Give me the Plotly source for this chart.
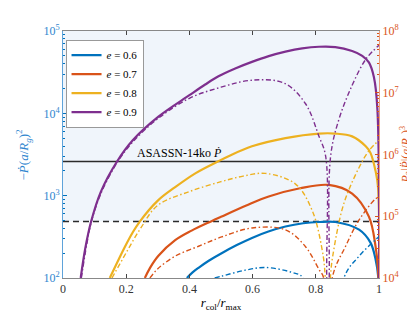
import math
import plotly.graph_objects as go

# ---- data ----
# solid curves: -Pdot (a/Rg)^2  (left axis)
x_s06 = [0.392, 0.41, 0.43, 0.46, 0.502, 0.55, 0.598, 0.65, 0.704, 0.76, 0.81, 0.862, 0.937, 0.973, 0.989, 0.998, 0.9995]
y_s06 = [100, 117, 134, 161, 200, 251, 307, 367, 422, 462, 479, 479, 386, 269, 170, 100, 10]

x_s07 = [0.259, 0.275, 0.302, 0.355, 0.407, 0.47, 0.5, 0.58, 0.651, 0.75, 0.841, 0.915, 0.968, 0.989, 0.998, 0.9995]
y_s07 = [100, 132, 186, 288, 376, 490, 553, 759, 977, 1230, 1350, 1060, 556, 244, 107, 10]

x_s08 = [0.148, 0.196, 0.22, 0.243, 0.3, 0.355, 0.42, 0.49, 0.524, 0.598, 0.704, 0.81, 0.862, 0.915, 0.958, 0.973, 0.989, 0.997, 0.9995]
y_s08 = [100, 240, 355, 485, 871, 1270, 1880, 2600, 3020, 3980, 5010, 5680, 5680, 5250, 3980, 3310, 2000, 1260, 10]

x_s09 = [0.056, 0.07, 0.089, 0.12, 0.171, 0.22, 0.302, 0.4, 0.45, 0.492, 0.545, 0.598, 0.651, 0.704, 0.757, 0.81, 0.862, 0.915, 0.947, 0.968, 0.984, 0.995, 0.9995]
y_s09 = [100, 224, 485, 1120, 2600, 4680, 9120, 16600, 22400, 28200, 35100, 42200, 49500, 56100, 61500, 64400, 63800, 57100, 49900, 41500, 27400, 11100, 10]

# dash-dot curves: P0 |Pddot| (a/Rg)^3  (right axis)
x_d06 = [0.48, 0.502, 0.58, 0.64, 0.725, 0.76, 0.838, 0.889, 0.937, 0.989, 1.0]
y_d06 = [1.0e4, 1.07e4, 1.35e4, 1.48e4, 1.23e4, 1.0e4, 10, 1.0e4, 2.26e4, 4.17e4, 4.68e4]

x_d07 = [0.275, 0.3, 0.355, 0.429, 0.502, 0.598, 0.704, 0.767, 0.81, 0.825, 0.838, 0.852, 0.894, 0.937, 0.989, 1.0]
y_d07 = [1.0e4, 1.41e4, 2.26e4, 3.27e4, 4.62e4, 6.46e4, 6.03e4, 3.24e4, 1.38e4, 1.0e4, 10, 1.0e4, 3.24e4, 8.71e4, 1.91e5, 2.04e5]

x_d08 = [0.155, 0.2, 0.245, 0.3, 0.4, 0.5, 0.57, 0.64, 0.735, 0.788, 0.82, 0.83, 0.838, 0.846, 0.857, 0.889, 0.937, 0.968, 1.0]
y_d08 = [1.0e4, 2.57e4, 6.31e4, 1.51e5, 2.51e5, 3.63e5, 4.47e5, 4.94e5, 3.35e5, 1.26e5, 2.88e4, 1.0e4, 10, 1.0e4, 2.88e4, 1.62e5, 6.17e5, 1.15e6, 1.70e6]

x_d09 = [0.058, 0.075, 0.09, 0.12, 0.17, 0.22, 0.3, 0.4, 0.5, 0.6, 0.7, 0.767, 0.81, 0.831, 0.8345, 0.838, 0.8425, 0.847, 0.873, 0.915, 0.958, 1.0]
y_d09 = [1.0e4, 3.47e4, 8.32e4, 2.34e5, 7.24e5, 1.58e6, 3.8e6, 8.13e6, 1.23e7, 1.6e7, 1.43e7, 6.7e6, 1.97e6, 9.46e5, 1.0e4, 10, 1.0e4, 9.46e5, 3.68e6, 1.32e7, 3.47e7, 5.89e7]

ecc_labels = ["0.6", "0.7", "0.8", "0.9"]
colors = ["#0072BD", "#D95319", "#EDB120", "#7E2F8E"]

pdot_obs = 2600      # ASASSN-14ko Pdot
pdot_low = 485       # dashed threshold

x_ticks = [0, 0.2, 0.4, 0.6, 0.8, 1]
x_ticktext = ["0", "0.2", "0.4", "0.6", "0.8", "1"]
yl_ticks = [1e2, 1e3, 1e4, 1e5]
yl_text = ["10<sup>2</sup>", "10<sup>3</sup>", "10<sup>4</sup>", "10<sup>5</sup>"]
yr_ticks = [1e4, 1e5, 1e6, 1e7, 1e8]
yr_text = ["10<sup>4</sup>", "10<sup>5</sup>", "10<sup>6</sup>", "10<sup>7</sup>", "10<sup>8</sup>"]

FONT = "Liberation Serif, DejaVu Serif, serif"
BLUE_TXT = "#2f86cf"
ORANGE_TXT = "#D95319"

solids = [(x_s06, y_s06), (x_s07, y_s07), (x_s08, y_s08), (x_s09, y_s09)]
dashes = [(x_d06, y_d06), (x_d07, y_d07), (x_d08, y_d08), (x_d09, y_d09)]

fig = go.Figure()

# shaded region
fig.add_shape(type="rect", xref="x", yref="y", x0=0, x1=1, y0=pdot_low, y1=1e5,
              fillcolor="#F0F5FB", line=dict(width=0), layer="below")

for (xs, ys), c in zip(dashes, colors):
    fig.add_trace(go.Scatter(x=xs, y=ys, mode="lines", yaxis="y2", showlegend=False,
                             line=dict(color=c, width=1.4, dash="5px,2.5px,1.5px,2.5px",
                                       shape="spline", smoothing=1.0)))

# horizontal reference lines
fig.add_trace(go.Scatter(x=[0, 1], y=[pdot_obs, pdot_obs], mode="lines", showlegend=False,
                         line=dict(color="#2b2b2b", width=1.6)))
fig.add_trace(go.Scatter(x=[0, 1], y=[pdot_low, pdot_low], mode="lines", showlegend=False,
                         line=dict(color="#2b2b2b", width=1.6, dash="6px,4px")))

for (xs, ys), c, lab in zip(solids, colors, ecc_labels):
    fig.add_trace(go.Scatter(x=xs, y=ys, mode="lines", name="<i>e</i> = " + lab,
                             line=dict(color=c, width=2.2, shape="spline", smoothing=1.0)))

fig.add_annotation(x=0.228, y=math.log10(pdot_obs), xref="x", yref="y",
                   text="ASASSN-14ko <i>Ṗ</i>",
                   showarrow=False, xanchor="left", yanchor="bottom", yshift=0,
                   font=dict(family=FONT, size=12, color="black"))

# axis titles
fig.add_annotation(x=0, y=0.5, xref="paper", yref="paper", xshift=-40,
                   text="−<i>Ṗ</i>(<i>a</i>/<i>R<sub>g</sub></i>)<sup>2</sup>",
                   textangle=-90, showarrow=False, xanchor="center", yanchor="middle",
                   font=dict(family=FONT, size=13, color=BLUE_TXT))
fig.add_annotation(x=1, y=0.5, xref="paper", yref="paper", xshift=27,
                   text="<i>P</i><sub>0</sub>|<i>P̈</i>|(<i>a</i>/<i>R<sub>g</sub></i>)<sup>3</sup>",
                   textangle=-90, showarrow=False, xanchor="center", yanchor="middle",
                   font=dict(family=FONT, size=12, color=ORANGE_TXT))

fig.update_layout(
    width=415, height=312,
    margin=dict(l=55, r=44, t=23, b=38),
    paper_bgcolor="white", plot_bgcolor="white",
    font=dict(family=FONT, size=12, color="black"),
    showlegend=True,
    legend=dict(x=0.008, y=0.965, xanchor="left", yanchor="top",
                bgcolor="white", bordercolor="#999999", borderwidth=1,
                font=dict(family=FONT, size=11), tracegroupgap=0,
                itemwidth=30),
    xaxis=dict(range=[0, 1], tickvals=x_ticks, ticktext=x_ticktext, ticks="inside",
               ticklen=4, tickcolor="#444", showline=True, linecolor="#888", mirror="ticks",
               showgrid=False, zeroline=False,
               tickfont=dict(family=FONT, size=12, color="#333"),
               title=dict(text="<i>r</i><sub>col</sub>/<i>r</i><sub>max</sub>",
                          font=dict(family=FONT, size=13), standoff=2)),
    yaxis=dict(type="log", range=[2, 5], tickvals=yl_ticks, ticktext=yl_text,
               ticks="inside", ticklen=4, tickcolor="#0072BD", showline=True,
               linecolor="#5fa3da", showgrid=False, zeroline=False,
               tickfont=dict(family=FONT, size=12, color=BLUE_TXT),
               minor=dict(ticks="inside", ticklen=2, tickcolor="#0072BD", showgrid=False,
                          tickvals=[m * 10 ** k for k in (2, 3, 4) for m in range(2, 10)])),
    yaxis2=dict(type="log", range=[4, 8], overlaying="y", side="right",
                tickvals=yr_ticks, ticktext=yr_text,
                ticks="inside", ticklen=4, tickcolor="#D95319", showline=True,
                linecolor="#e8a080", showgrid=False, zeroline=False,
                tickfont=dict(family=FONT, size=12, color=ORANGE_TXT),
                minor=dict(ticks="inside", ticklen=2, tickcolor="#D95319", showgrid=False,
                           tickvals=[m * 10 ** k for k in (4, 5, 6, 7) for m in range(2, 10)])),
)

fig.write_html("out.html")
